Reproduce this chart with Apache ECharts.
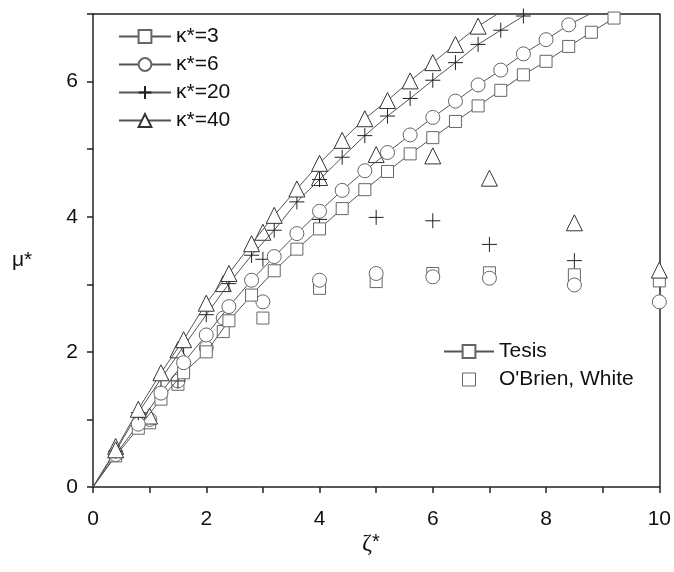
<!DOCTYPE html>
<html>
<head>
<meta charset="utf-8">
<script src="https://cdn.jsdelivr.net/npm/echarts@6/dist/echarts.min.js"></script>
<style>
  html, body { margin: 0; padding: 0; background: #fff; }
  #chart { width: 674px; height: 572px; }
</style>
</head>
<body>
<div id="chart"></div>
<script>
// Tesis curves: mu* against zeta*, sampled every 0.4
const zeta = [0, 0.4, 0.8, 1.2, 1.6, 2.0, 2.4, 2.8, 3.2, 3.6, 4.0, 4.4, 4.8, 5.2, 5.6, 6.0, 6.4, 6.8, 7.2, 7.6, 8.0, 8.4, 8.8, 9.2, 9.6];
const muK3  = [0, 0.46, 0.87, 1.30, 1.69, 2.00, 2.46, 2.84, 3.20, 3.52, 3.82, 4.12, 4.40, 4.67, 4.93, 5.17, 5.41, 5.64, 5.87, 6.10, 6.30, 6.52, 6.73, 6.94, 7.14];
const muK6  = [0, 0.48, 0.93, 1.39, 1.84, 2.25, 2.67, 3.06, 3.41, 3.75, 4.08, 4.39, 4.68, 4.95, 5.21, 5.47, 5.71, 5.95, 6.17, 6.41, 6.62, 6.84, 7.01, 7.20];
const muK20 = [0, 0.53, 1.10, 1.60, 2.08, 2.55, 3.01, 3.43, 3.80, 4.22, 4.55, 4.88, 5.20, 5.49, 5.75, 6.02, 6.28, 6.55, 6.76, 6.97, 7.18];
const muK40 = [0, 0.55, 1.15, 1.69, 2.18, 2.72, 3.16, 3.60, 4.02, 4.41, 4.79, 5.13, 5.45, 5.72, 6.01, 6.28, 6.55, 6.82, 7.03, 7.25];

// O'Brien, White reference points
const obK3x  = [1.0, 1.5, 2.3, 3, 4, 5, 6, 7, 8.5, 10];
const obK3y  = [0.95, 1.52, 2.30, 2.50, 2.94, 3.04, 3.16, 3.17, 3.14, 3.05];
const obK6x  = [1.0, 1.5, 2.0, 2.3, 3, 4, 5, 6, 7, 8.5, 10];
const obK6y  = [1.00, 1.57, 2.06, 2.50, 2.74, 3.06, 3.16, 3.11, 3.09, 2.99, 2.74];
const obK20x = [1.5, 3, 4, 5, 6, 7, 8.5];
const obK20y = [1.57, 3.37, 3.96, 3.99, 3.94, 3.59, 3.35];
const obK40x = [0.4, 1.0, 1.5, 2.3, 3, 4, 5, 6, 7, 8.5, 10];
const obK40y = [0.60, 1.05, 2.03, 3.01, 3.77, 4.58, 4.92, 4.90, 4.57, 3.91, 3.21];

const seriesNames = ['κ*=3', 'κ*=6', 'κ*=20', 'κ*=40'];
const tesisName = 'Tesis';
const obrienName = "O'Brien, White";

const FONT = '"Liberation Sans", Arial, sans-serif';
const PLUS = 'path://M0,-10 L0,10 M-10,0 L10,0';
const SQUARE = 'path://M0,0 L10,0 L10,10 L0,10 Z';

const markers = [
  { symbol: 'rect', size: 12, color: '#666' },
  { symbol: 'circle', size: 14, color: '#666' },
  { symbol: PLUS, size: 15, color: '#222' },
  { symbol: 'triangle', size: 16, color: '#333' }
];

function pairs(xs, ys) {
  return ys.map((y, i) => [xs[i], y]);
}

function curve(name, ys, m) {
  const data = pairs(zeta, ys);
  data[0] = { value: data[0], symbolSize: 0 };
  return {
    name: name,
    type: 'line',
    data: data,
    symbol: m.symbol,
    symbolSize: m.size,
    symbolKeepAspect: true,
    showAllSymbol: true,
    clip: true,
    lineStyle: { color: '#555', width: 1 },
    itemStyle: { color: '#fff', borderColor: m.color, borderWidth: 1 },
    emphasis: { disabled: true },
    z: 3
  };
}

function points(name, xs, ys, m) {
  return {
    name: name,
    type: 'scatter',
    data: pairs(xs, ys),
    symbol: m.symbol,
    symbolSize: m.size,
    symbolKeepAspect: true,
    clip: true,
    itemStyle: { color: '#fff', borderColor: m.color, borderWidth: 1, opacity: 1 },
    emphasis: { disabled: true },
    z: 2
  };
}

const series = [
  curve(seriesNames[0], muK3, markers[0]),
  curve(seriesNames[1], muK6, markers[1]),
  curve(seriesNames[2], muK20, markers[2]),
  curve(seriesNames[3], muK40, markers[3]),
  points(obrienName, obK3x, obK3y, markers[0]),
  points(obrienName, obK6x, obK6y, markers[1]),
  points(obrienName, obK20x, obK20y, markers[2]),
  points(obrienName, obK40x, obK40y, markers[3]),
  {
    name: tesisName,
    type: 'line',
    data: [],
    symbol: 'rect',
    symbolSize: 12,
    lineStyle: { color: '#555', width: 1 },
    itemStyle: { color: '#fff', borderColor: '#666', borderWidth: 1 }
  }
];

const textStyle = { fontFamily: FONT, fontSize: 21, color: '#111' };
const axisLine = { show: true, onZero: false, lineStyle: { color: '#222', width: 1.5 } };
const noTicks = { show: false, length: 0 };

const chart = echarts.init(document.getElementById('chart'), null, { renderer: 'canvas' });
chart.setOption({
  animation: false,
  backgroundColor: '#fff',
  grid: { left: 93, right: 14, top: 14, bottom: 85 },
  legend: [
    {
      data: seriesNames,
      orient: 'vertical',
      left: 118,
      top: 26,
      padding: 0,
      itemWidth: 52,
      itemHeight: 16,
      itemGap: 7,
      selectedMode: false,
      textStyle: textStyle
    },
    {
      data: [tesisName],
      orient: 'vertical',
      left: 443,
      top: 341,
      padding: 0,
      itemWidth: 50,
      itemHeight: 16,
      selectedMode: false,
      textStyle: textStyle
    },
    {
      data: [{ name: obrienName, icon: SQUARE }],
      orient: 'vertical',
      left: 462,
      top: 369,
      padding: 0,
      itemWidth: 50,
      itemHeight: 13,
      symbolKeepAspect: true,
      selectedMode: false,
      itemStyle: { color: '#fff', borderColor: '#666', borderWidth: 1 },
      textStyle: textStyle
    }
  ],
  xAxis: [
    {
      type: 'value',
      min: 0,
      max: 10,
      interval: 1,
      axisLine: axisLine,
      splitLine: { show: false },
      axisTick: { show: true, inside: false, length: 6, lineStyle: { color: '#222', width: 1.5 } },
      axisLabel: Object.assign({ margin: 22, formatter: v => (v % 2 === 0 ? String(v) : '') }, textStyle)
    },
    {
      type: 'value',
      position: 'top',
      min: 0,
      max: 10,
      interval: 10,
      axisLine: axisLine,
      splitLine: { show: false },
      minorTick: { show: false },
      axisTick: noTicks,
      axisLabel: { show: false }
    }
  ],
  yAxis: [
    {
      type: 'value',
      min: 0,
      max: 7,
      interval: 1,
      axisLine: axisLine,
      splitLine: { show: false },
      axisTick: { show: true, inside: false, length: 6, lineStyle: { color: '#222', width: 1.5 } },
      axisLabel: Object.assign({ margin: 15, formatter: v => (v % 2 === 0 ? String(v) : '') }, textStyle)
    },
    {
      type: 'value',
      position: 'right',
      min: 0,
      max: 7,
      interval: 7,
      axisLine: axisLine,
      splitLine: { show: false },
      minorTick: { show: false },
      axisTick: noTicks,
      axisLabel: { show: false }
    }
  ],
  graphic: [
    {
      type: 'text',
      left: 362,
      top: 532,
      style: {
        text: '{z|ζ}{s|*}',
        rich: {
          z: { fontFamily: '"Liberation Serif", "DejaVu Serif", serif', fontSize: 24, fill: '#111' },
          s: { fontFamily: FONT, fontSize: 20, fill: '#111', verticalAlign: 'top' }
        }
      }
    },
    {
      type: 'text',
      left: 12,
      top: 250,
      style: { text: 'μ*', font: '21px "Liberation Sans", Arial, sans-serif', fill: '#111' }
    }
  ],
  series: series
});
</script>
</body>
</html>
